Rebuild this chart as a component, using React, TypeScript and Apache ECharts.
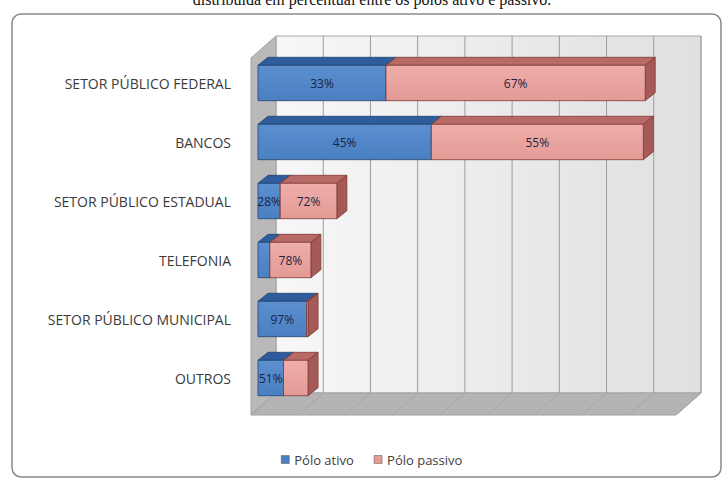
import React, { useEffect, useRef } from "react";
import * as echarts from "echarts";

const categories = [
  "SETOR PÚBLICO FEDERAL",
  "BANCOS",
  "SETOR PÚBLICO ESTADUAL",
  "TELEFONIA",
  "SETOR PÚBLICO MUNICIPAL",
  "OUTROS",
];
const poloAtivo = [271, 367, 47, 25, 103, 54];
const poloPassivo = [549, 449, 120, 87, 3, 52];
const rotuloAtivo = ["33%", "45%", "28%", "", "97%", "51%"];
const rotuloPassivo = ["67%", "55%", "72%", "78%", "", ""];
const seriesNames = ["Pólo ativo", "Pólo passivo"];
const axisMax = 900;
const axisInterval = 100;

const COLORS = {
  ativo: { front: "#4a7fc1", frontLight: "#5b8fd0", top: "#2f5c9c", side: "#2a5290", edge: "#21426e" },
  passivo: { front: "#e49a95", frontLight: "#eeaeaa", top: "#b86a66", side: "#a65a57", edge: "#7e3836" },
};

const DX = 10;
const DY = 8;

function makeBarRender(kind: "ativo" | "passivo") {
  const c = COLORS[kind];
  return (params: any, api: any) => {
    const cat = api.value(0);
    const start = api.value(1);
    const end = api.value(2);
    const label = kind === "ativo" ? rotuloAtivo[cat] : rotuloPassivo[cat];
    const p1 = api.coord([start, cat]);
    const p2 = api.coord([end, cat]);
    const band = api.size([0, 1])[1];
    const h = band * 0.6;
    const yT = p1[1] - h / 2;
    const yB = p1[1] + h / 2;
    const x1 = p1[0];
    const x2 = p2[0];
    const children: any[] = [
      {
        type: "polygon",
        shape: { points: [[x1, yT], [x2, yT], [x2 + DX, yT - DY], [x1 + DX, yT - DY]] },
        style: { fill: c.top, stroke: c.edge, lineWidth: 0.8 },
      },
      {
        type: "polygon",
        shape: { points: [[x2, yT], [x2 + DX, yT - DY], [x2 + DX, yB - DY], [x2, yB]] },
        style: { fill: c.side, stroke: c.edge, lineWidth: 0.8 },
      },
      {
        type: "rect",
        shape: { x: x1, y: yT, width: x2 - x1, height: h },
        style: {
          fill: new echarts.graphic.LinearGradient(0, 0, 0, 1, [
            { offset: 0, color: c.frontLight },
            { offset: 1, color: c.front },
          ]),
          stroke: c.edge,
          lineWidth: 0.8,
        },
      },
    ];
    if (label) {
      children.push({
        type: "text",
        style: {
          text: label,
          x: (x1 + x2) / 2,
          y: p1[1],
          align: "center",
          verticalAlign: "middle",
          fill: "#1b2340",
          font: "12px 'Open Sans'",
        },
      });
    }
    return { type: "group", children };
  };
}

function frameRender(params: any, api: any) {
  const cs = params.coordSys;
  const x0 = api.coord([0, 0])[0];
  const backX0 = x0 + 18;
  const frontX0 = x0 - 7;
  const yBackBottom = cs.y + cs.height - 14.5;
  const yFrontBottom = cs.y + cs.height + 7.5;
  const yBackTop = cs.y - 17.5;
  const yFrontTop = yBackTop + 22;
  const unit = api.coord([axisInterval, 0])[0] - x0;
  const backRight = backX0 + unit * (axisMax / axisInterval);
  const frontRight = frontX0 + unit * (axisMax / axisInterval);
  const children: any[] = [
    {
      type: "rect",
      shape: { x: backX0, y: yBackTop, width: backRight - backX0, height: yBackBottom - yBackTop },
      style: {
        fill: new echarts.graphic.LinearGradient(0, 0, 1, 0, [
          { offset: 0, color: "#f7f7f7" },
          { offset: 1, color: "#e0e0e0" },
        ]),
        stroke: "#a8a8a8",
        lineWidth: 1,
      },
    },
    {
      type: "polygon",
      shape: { points: [[frontX0, yFrontTop], [backX0, yBackTop], [backX0, yBackBottom], [frontX0, yFrontBottom]] },
      style: { fill: "#b9b9b9", stroke: "#a0a0a0", lineWidth: 1 },
    },
    {
      type: "polygon",
      shape: { points: [[backX0, yBackBottom], [backRight, yBackBottom], [frontRight, yFrontBottom], [frontX0, yFrontBottom]] },
      style: { fill: "#b4b4b4", stroke: "#a0a0a0", lineWidth: 1 },
    },
  ];
  for (let v = axisInterval; v <= axisMax; v += axisInterval) {
    const bx = backX0 + unit * (v / axisInterval);
    const fx = frontX0 + unit * (v / axisInterval);
    children.push({
      type: "line",
      shape: { x1: bx, y1: yBackTop, x2: bx, y2: yBackBottom },
      style: { stroke: "#9c9c9c", lineWidth: 1 },
    });
    children.push({
      type: "line",
      shape: { x1: bx, y1: yBackBottom, x2: fx, y2: yFrontBottom },
      style: { stroke: "#a6a6a6", lineWidth: 1 },
    });
  }
  return { type: "group", children };
}

export default function App() {
  const ref = useRef<HTMLDivElement>(null);
  useEffect(() => {
    document.body.style.margin = "0";
    const chart = echarts.init(ref.current!, undefined, { renderer: "svg" });
    const ativoData = categories.map((_, i) => [i, 0, poloAtivo[i]]);
    const passivoData = categories.map((_, i) => [i, poloAtivo[i], poloAtivo[i] + poloPassivo[i]]);
    chart.setOption({
      animation: false,
      backgroundColor: "#ffffff",
      grid: { left: 258, right: 44, top: 53.5, bottom: 74.5 },
      xAxis: {
        type: "value",
        min: 0,
        max: axisMax,
        interval: axisInterval,
        axisLabel: { show: false },
        axisLine: { show: false },
        axisTick: { show: false },
        splitLine: { show: false },
      },
      yAxis: {
        type: "category",
        data: categories,
        inverse: true,
        axisLine: { show: false },
        axisTick: { show: false },
        axisLabel: {
          margin: 27,
          padding: [17, 0, 0, 0],
          color: "#3a3a3a",
          fontFamily: "Open Sans",
          fontSize: 14,
        },
      },
      legend: {
        bottom: 11,
        left: 276,
        itemWidth: 8,
        itemHeight: 8,
        itemGap: 20,
        itemStyle: { borderColor: "#555", borderWidth: 0.5 },
        icon: "rect",
        textStyle: { color: "#404040", fontFamily: "Open Sans", fontSize: 13 },
        data: seriesNames,
      },
      graphic: [
        {
          type: "rect",
          shape: { x: 12, y: 14, width: 709, height: 463, r: 9 },
          style: { fill: "none", stroke: "#8a8a8a", lineWidth: 1.5 },
          z: 100,
        },
        {
          type: "text",
          x: 372,
          y: -9,
          style: {
            text: "distribuída em percentual entre os polos ativo e passivo.",
            align: "center",
            verticalAlign: "top",
            font: "16px 'Liberation Serif'",
            fill: "#111",
          },
        },
      ],
      series: [
        {
          type: "custom",
          name: "frame",
          silent: true,
          renderItem: frameRender,
          data: [[0, 0]],
          encode: { x: 0, y: 1 },
          z: 1,
        },
        {
          type: "custom",
          name: seriesNames[0],
          renderItem: makeBarRender("ativo"),
          data: ativoData,
          encode: { x: [1, 2], y: 0 },
          itemStyle: { color: COLORS.ativo.front },
          z: 2,
        },
        {
          type: "custom",
          name: seriesNames[1],
          renderItem: makeBarRender("passivo"),
          data: passivoData,
          encode: { x: [1, 2], y: 0 },
          itemStyle: { color: COLORS.passivo.front },
          z: 3,
        },
      ],
    });
    return () => chart.dispose();
  }, []);
  return <div ref={ref} style={{ position: "fixed", left: 0, top: 0, width: 727, height: 482 }} />;
}
